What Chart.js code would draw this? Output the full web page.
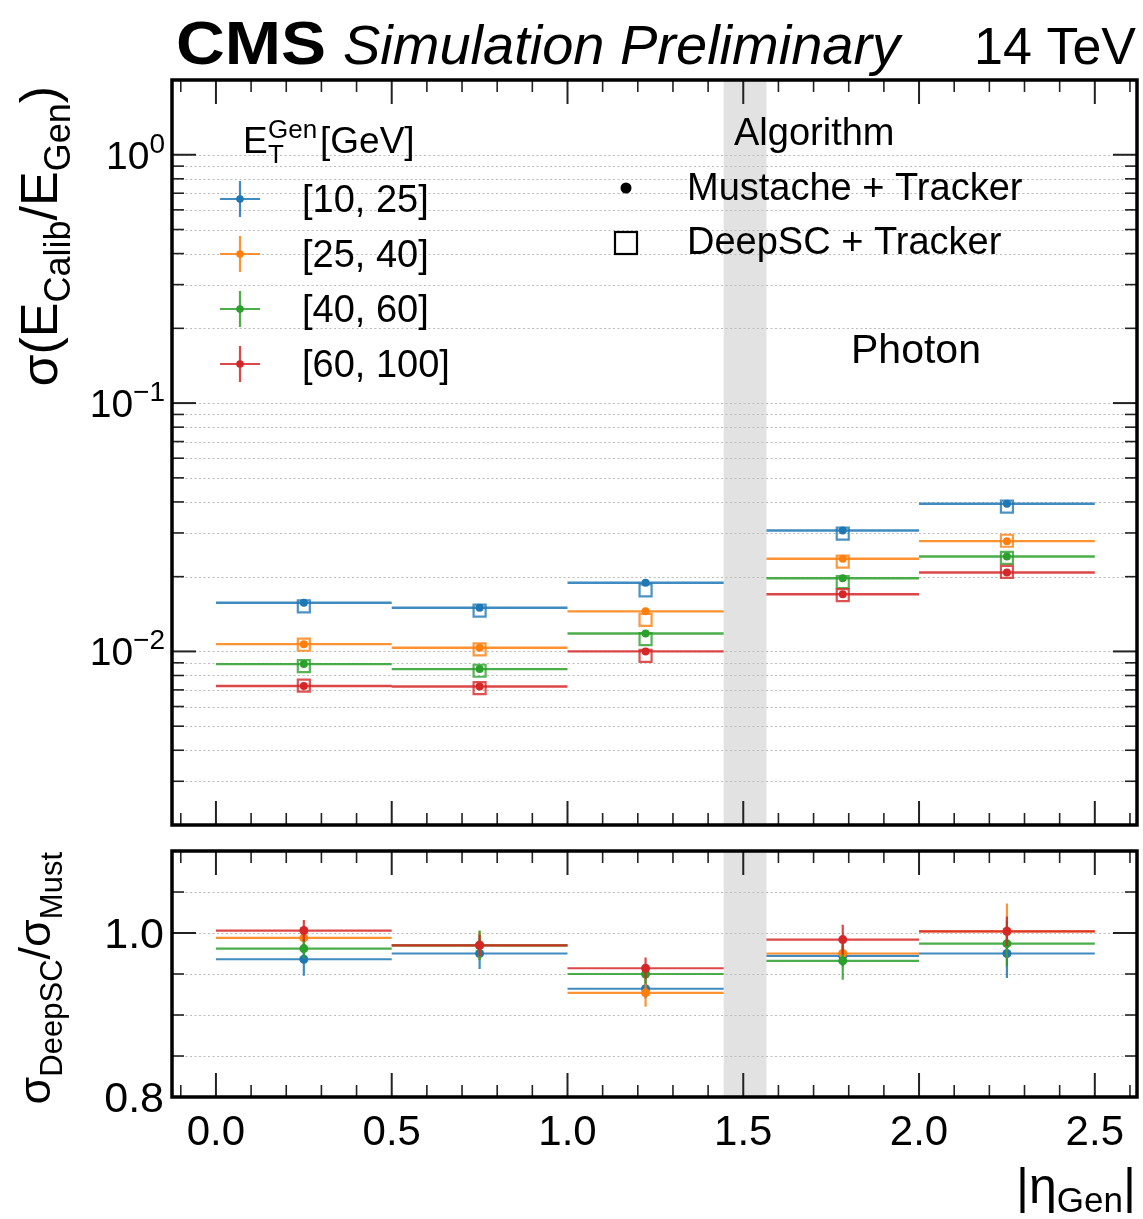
<!DOCTYPE html>
<html>
<head>
<meta charset="utf-8">
<script src="https://cdn.jsdelivr.net/npm/chart.js@4.4.1/dist/chart.umd.min.js"></script>
<style>
  html, body { margin: 0; padding: 0; background: #fff; }
  #wrap { position: relative; width: 1143px; height: 1219px; }
  canvas { position: absolute; left: 0; }
  #mainChart { top: 0; }
  #ratioChart { top: 838px; }
</style>
</head>
<body>
<div id="wrap">
  <canvas id="mainChart" width="1143" height="838"></canvas>
  <canvas id="ratioChart" width="1143" height="381"></canvas>
</div>
<script>
const FONT = '"Liberation Sans", Arial, Helvetica, sans-serif';

// |eta| bins (barrel/endcap transition region is skipped)
const binLow  = [0.0, 0.5, 1.0, 1.566, 2.0];
const binHigh = [0.5, 1.0, 1.4442, 2.0, 2.5];
const gapRange = [1.4442, 1.566];

const etLabels = ['[10, 25]', '[25, 40]', '[40, 60]', '[60, 100]'];
const etColors = ['#1f77b4', '#ff7f0e', '#2ca02c', '#d62728'];

// sigma(E_calib / E_gen), Mustache + Tracker
const mustache10to25  = [0.0157, 0.0150, 0.0189, 0.0307, 0.0393];
const mustache25to40  = [0.0107, 0.01035, 0.0145, 0.0236, 0.0278];
const mustache40to60  = [0.00889, 0.00849, 0.0118, 0.0197, 0.0241];
const mustache60to100 = [0.00726, 0.00722, 0.0100, 0.0170, 0.0208];

// sigma(E_calib / E_gen), DeepSC + Tracker
const deepsc10to25  = [0.0152, 0.0146, 0.0176, 0.0298, 0.0383];
const deepsc25to40  = [0.01064, 0.0102, 0.0134, 0.0230, 0.0279];
const deepsc40to60  = [0.00872, 0.00836, 0.0112, 0.0190, 0.0238];
const deepsc60to100 = [0.00728, 0.00711, 0.0096, 0.01685, 0.0209];

// DeepSC / Mustache resolution ratio and its uncertainty
const ratio10to25  = [0.968, 0.975, 0.932, 0.972, 0.975];
const ratio25to40  = [0.994, 0.985, 0.927, 0.975, 1.002];
const ratio40to60  = [0.981, 0.985, 0.950, 0.966, 0.987];
const ratio60to100 = [1.003, 0.985, 0.957, 0.992, 1.002];
const ratioErr10to25  = [0.020, 0.019, 0.012, 0.013, 0.030];
const ratioErr25to40  = [0.010, 0.017, 0.017, 0.012, 0.034];
const ratioErr40to60  = [0.012, 0.018, 0.012, 0.023, 0.028];
const ratioErr60to100 = [0.013, 0.013, 0.013, 0.018, 0.018];

// axis ticks
const xMajorTicks = [0, 0.5, 1.0, 1.5, 2.0, 2.5];
const xMinorTicks = [-0.1, 0.1, 0.2, 0.3, 0.4, 0.6, 0.7, 0.8, 0.9, 1.1, 1.2, 1.3, 1.4,
                     1.6, 1.7, 1.8, 1.9, 2.1, 2.2, 2.3, 2.4, 2.6];
const logMajorTicks = [0.01, 0.1, 1];
const logMajorLabels = [['10', '\u22122'], ['10', '\u22121'], ['10', '0']];
const logMinorTicks = [];
[0.001, 0.01, 0.1].forEach(d => {
  for (let m = 2; m <= 9; m++) logMinorTicks.push(+(m * d).toPrecision(3));
});
const ratioMajorTicks = [0.8, 1.0];
const ratioMajorLabels = ['0.8', '1.0'];
const ratioMinorTicks = [0.85, 0.9, 0.95, 1.05];

const mustacheRes = [mustache10to25, mustache25to40, mustache40to60, mustache60to100];
const deepscRes = [deepsc10to25, deepsc25to40, deepsc40to60, deepsc60to100];
const ratios = [ratio10to25, ratio25to40, ratio40to60, ratio60to100];
const ratioErrs = [ratioErr10to25, ratioErr25to40, ratioErr40to60, ratioErr60to100];

const binCenter = binLow.map((lo, i) => (lo + binHigh[i]) / 2);

function hexA(hex, a) {
  const n = parseInt(hex.slice(1), 16);
  return `rgba(${n >> 16}, ${(n >> 8) & 255}, ${n & 255}, ${a})`;
}
const font = (size, style) => `${style || ''} ${size}px ${FONT}`;

// horizontal bin-width segments, broken by null points
function stepPoints(vals) {
  const pts = [];
  vals.forEach((v, i) => {
    pts.push({x: binLow[i], y: v}, {x: binHigh[i], y: v}, {x: binHigh[i], y: null});
  });
  return pts;
}
function errPoints(vals, errs) {
  const pts = [];
  vals.forEach((v, i) => {
    const c = binCenter[i];
    pts.push({x: c, y: v - errs[i]}, {x: c, y: v + errs[i]}, {x: c, y: null});
  });
  return pts;
}
const markerPoints = vals => vals.map((v, i) => ({x: binCenter[i], y: v}));

function lineSet(data, color, width) {
  return {data, showLine: true, borderColor: color, borderWidth: width, pointRadius: 0, spanGaps: false};
}
function markerSet(data, style, radius, fill, stroke, bw) {
  return {data, showLine: false, pointStyle: style, pointRadius: radius,
          pointBackgroundColor: fill, pointBorderColor: stroke, pointBorderWidth: bw};
}

// ---- drawing helpers ----
function seg(ctx, x0, y0, x1, y1) {
  ctx.beginPath(); ctx.moveTo(x0, y0); ctx.lineTo(x1, y1); ctx.stroke();
}
function richText(ctx, pieces, x, y, align) {
  let total = 0;
  pieces.forEach(p => { ctx.font = p.font; p.w = ctx.measureText(p.text).width; total += p.w; });
  let cx = align === 'right' ? x - total : align === 'center' ? x - total / 2 : x;
  ctx.textAlign = 'left';
  ctx.textBaseline = 'alphabetic';
  pieces.forEach(p => { ctx.font = p.font; ctx.fillText(p.text, cx, y + (p.dy || 0)); cx += p.w; });
}
function drawBand(chart) {
  const {ctx, chartArea: a, scales: {x}} = chart;
  const x0 = x.getPixelForValue(gapRange[0]);
  const x1 = x.getPixelForValue(gapRange[1]);
  ctx.save();
  ctx.fillStyle = '#e2e2e2';
  ctx.fillRect(x0, a.top, x1 - x0, a.bottom - a.top);
  ctx.restore();
}
function drawGrid(chart, values) {
  const {ctx, chartArea: a, scales: {y}} = chart;
  ctx.save();
  ctx.strokeStyle = '#bcbcbc';
  ctx.lineWidth = 1.2;
  ctx.setLineDash([2, 2.5]);
  values.forEach(v => {
    const py = Math.round(y.getPixelForValue(v)) + 0.5;
    if (py > a.top + 2 && py < a.bottom - 2) seg(ctx, a.left, py, a.right, py);
  });
  ctx.restore();
}
function drawTicksAndFrame(chart, yMajor, yMinor) {
  const {ctx, chartArea: a, scales: {x, y}} = chart;
  ctx.save();
  ctx.strokeStyle = '#222';
  const xt = (v, len, w) => {
    const px = x.getPixelForValue(v);
    ctx.lineWidth = w;
    seg(ctx, px, a.bottom, px, a.bottom - len);
    seg(ctx, px, a.top, px, a.top + len);
  };
  const yt = (v, len, w) => {
    const py = y.getPixelForValue(v);
    if (py < a.top || py > a.bottom) return;
    ctx.lineWidth = w;
    seg(ctx, a.left, py, a.left + len, py);
    seg(ctx, a.right, py, a.right - len, py);
  };
  xMajorTicks.forEach(v => xt(v, 24, 2));
  xMinorTicks.forEach(v => xt(v, 12, 1.6));
  yMajor.forEach(v => yt(v, 24, 2));
  yMinor.forEach(v => yt(v, 12, 1.6));
  ctx.strokeStyle = '#000';
  ctx.lineWidth = 3.5;
  ctx.strokeRect(a.left, a.top, a.right - a.left, a.bottom - a.top);
  ctx.restore();
}

// ---- main panel decorations ----
const mainDecor = {
  id: 'mainDecor',
  beforeDraw(chart) {
    drawBand(chart);
    drawGrid(chart, logMajorTicks.concat(logMinorTicks));
  },
  afterDraw(chart) {
    const {ctx, scales: {y}} = chart;
    drawTicksAndFrame(chart, logMajorTicks, logMinorTicks);
    ctx.save();
    ctx.fillStyle = '#000';

    // header
    ctx.save();
    ctx.translate(176, 64);
    ctx.scale(1.09, 1);
    ctx.font = font(62, 'bold');
    ctx.textAlign = 'left';
    ctx.fillText('CMS', 0, 0);
    ctx.restore();
    richText(ctx, [{text: 'Simulation Preliminary', font: font(56, 'italic')}], 343, 64, 'left');
    richText(ctx, [{text: '14 TeV', font: font(52)}], 1136, 64, 'right');

    // y tick labels, 10^n
    logMajorTicks.forEach((v, i) => {
      const py = y.getPixelForValue(v);
      richText(ctx, [
        {text: logMajorLabels[i][0], font: font(39)},
        {text: logMajorLabels[i][1], font: font(28), dy: -16}
      ], 165, py + 14, 'right');
    });

    // y axis title
    ctx.save();
    ctx.translate(57, 86);
    ctx.rotate(-Math.PI / 2);
    richText(ctx, [
      {text: '\u03c3(E', font: font(52)},
      {text: 'Calib', font: font(36), dy: 13},
      {text: '/E', font: font(52)},
      {text: 'Gen', font: font(36), dy: 13},
      {text: ')', font: font(52)}
    ], 0, 0, 'right');
    ctx.restore();

    // E_T bin legend
    richText(ctx, [{text: 'E', font: font(37)}], 243, 153, 'left');
    richText(ctx, [{text: 'T', font: font(26)}], 268, 163, 'left');
    richText(ctx, [{text: 'Gen', font: font(26)}], 268, 138, 'left');
    richText(ctx, [{text: '[GeV]', font: font(37)}], 320, 153, 'left');
    etLabels.forEach((lab, k) => {
      const cy = 199 + 55 * k;
      ctx.strokeStyle = hexA(etColors[k], 0.85);
      ctx.lineWidth = 2.2;
      seg(ctx, 220, cy, 260, cy);
      seg(ctx, 240, cy - 18, 240, cy + 18);
      ctx.fillStyle = etColors[k];
      ctx.beginPath(); ctx.arc(240, cy, 3.8, 0, 2 * Math.PI); ctx.fill();
      ctx.fillStyle = '#000';
      richText(ctx, [{text: lab, font: font(38)}], 302, cy + 13, 'left');
    });

    // algorithm legend
    richText(ctx, [{text: 'Algorithm', font: font(38)}], 734, 145, 'left');
    ctx.beginPath(); ctx.arc(626, 188, 5.5, 0, 2 * Math.PI); ctx.fill();
    ctx.strokeStyle = '#000';
    ctx.lineWidth = 2.2;
    ctx.strokeRect(615, 232, 22, 22);
    richText(ctx, [{text: 'Mustache + Tracker', font: font(38)}], 687, 200, 'left');
    richText(ctx, [{text: 'DeepSC + Tracker', font: font(38)}], 687, 254, 'left');
    richText(ctx, [{text: 'Photon', font: font(41)}], 851, 363, 'left');
    ctx.restore();
  }
};

// ---- ratio panel decorations ----
const ratioDecor = {
  id: 'ratioDecor',
  beforeDraw(chart) {
    drawBand(chart);
    drawGrid(chart, ratioMinorTicks.concat([1.0]));
  },
  afterDraw(chart) {
    const {ctx, scales: {x, y}} = chart;
    drawTicksAndFrame(chart, ratioMajorTicks, ratioMinorTicks);
    ctx.save();
    ctx.fillStyle = '#000';
    xMajorTicks.forEach(v => {
      richText(ctx, [{text: v.toFixed(1), font: font(42)}], x.getPixelForValue(v), 307, 'center');
    });
    ratioMajorTicks.forEach((v, i) => {
      richText(ctx, [{text: ratioMajorLabels[i], font: font(43)}], 164, y.getPixelForValue(v) + 15, 'right');
    });
    // x axis title
    richText(ctx, [
      {text: '|\u03b7', font: font(50)},
      {text: 'Gen', font: font(35), dy: 9},
      {text: '|', font: font(50)}
    ], 1136, 365, 'right');
    // y axis title
    ctx.save();
    ctx.translate(50, 14);
    ctx.rotate(-Math.PI / 2);
    richText(ctx, [
      {text: '\u03c3', font: font(45)},
      {text: 'DeepSC', font: font(31), dy: 12},
      {text: '/\u03c3', font: font(45)},
      {text: 'Must', font: font(31), dy: 12}
    ], 0, 0, 'right');
    ctx.restore();
    ctx.restore();
  }
};

// ---- datasets (first dataset is painted on top, so build bottom-up and reverse) ----
const mainSets = [];
etColors.forEach((c, k) => {
  mainSets.push(lineSet(stepPoints(mustacheRes[k]), hexA(c, 0.85), 2.4));
  mainSets.push(markerSet(markerPoints(deepscRes[k]), 'rect', 8.5, 'rgba(0,0,0,0)', hexA(c, 0.8), 2.2));
  mainSets.push(markerSet(markerPoints(mustacheRes[k]), 'circle', 4, c, c, 0));
});
mainSets.reverse();

const ratioSets = [];
etColors.forEach((c, k) => {
  ratioSets.push(lineSet(stepPoints(ratios[k]), hexA(c, 0.85), 2.2));
  ratioSets.push(lineSet(errPoints(ratios[k], ratioErrs[k]), hexA(c, 0.85), 2.2));
  ratioSets.push(markerSet(markerPoints(ratios[k]), 'circle', 4.5, c, c, 0));
});
ratioSets.reverse();

const baseOptions = (yScale, padding) => ({
  responsive: false,
  animation: false,
  devicePixelRatio: 1,
  events: [],
  layout: {padding, autoPadding: false},
  plugins: {legend: {display: false}, tooltip: {enabled: false}},
  scales: {
    x: {type: 'linear', display: false, min: -0.125, max: 2.62},
    y: yScale
  }
});

new Chart(document.getElementById('mainChart'), {
  type: 'scatter',
  data: {datasets: mainSets},
  options: baseOptions({type: 'logarithmic', display: false, min: 0.002, max: 2},
                       {left: 172, right: 6, top: 80, bottom: 13}),
  plugins: [mainDecor]
});

new Chart(document.getElementById('ratioChart'), {
  type: 'scatter',
  data: {datasets: ratioSets},
  options: baseOptions({type: 'linear', display: false, min: 0.8, max: 1.1},
                       {left: 172, right: 6, top: 13, bottom: 122}),
  plugins: [ratioDecor]
});
</script>
</body>
</html>
